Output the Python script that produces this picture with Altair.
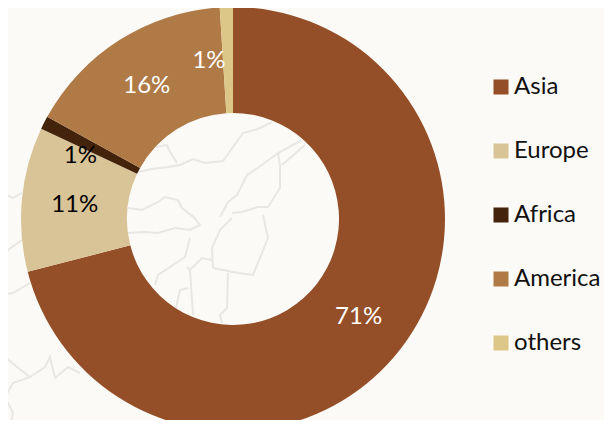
import altair as alt
import pandas as pd

regions = ["Asia", "Europe", "Africa", "America", "others"]
shares = [71, 11, 1, 16, 1]
labels = ["71%", "11%", "1%", "16%", "1%"]
colors = ["#954F28", "#D9C498", "#43230B", "#B07A47", "#DCC788"]
label_colors = ["#FFFFFF", "#000000", "#000000", "#FFFFFF", "#FFFFFF"]
label_dx = [0, 0, -11, -1, -19]
label_dy = [1, 1, 9, 1, 1]

# faint map texture behind the chart
map_lines = [
    [(138,172),(152,169),(168,167),(180,165),(193,159),(205,163),(223,161),(233,147),(243,133),(258,129),(272,122)],
    [(177,163),(170,152),(167,145),(155,147)],
    [(228,202),(237,195),(247,175),(262,165),(278,153),(302,140)],
    [(282,165),(305,145)],
    [(278,153),(280,165),(280,188),(268,207),(258,207),(242,212),(232,213)],
    [(228,202),(220,217)],
    [(128,208),(142,210),(158,202),(165,197),(178,200),(182,208),(197,220)],
    [(128,233),(145,232),(158,233),(175,228),(190,230),(200,225),(192,215)],
    [(190,238),(185,257),(173,265),(158,275),(155,285)],
    [(187,267),(190,270),(202,258),(212,260)],
    [(190,270),(193,315)],
    [(213,268),(212,248),(220,230),(232,218)],
    [(213,268),(238,273),(253,275),(268,238),(263,215)],
    [(228,273),(227,308),(220,315),(222,323)],
    [(175,312),(180,290),(188,288)],
    [(0,192),(13,198),(22,193)],
    [(0,267),(8,250),(22,240)],
    [(0,295),(13,293),(30,283)],
    [(0,343),(5,357),(17,367),(30,377),(13,383),(5,397),(13,413),(10,428)],
    [(30,377),(45,367),(50,357),(55,378),(68,367),(80,373)],
]

df = pd.DataFrame({
    "region": regions, "share": shares, "label": labels, "idx": range(len(regions)),
})
map_df = pd.DataFrame([
    {"line": i, "n": j, "mx": p[0], "my": p[1]}
    for i, line in enumerate(map_lines) for j, p in enumerate(line)
])

W, H = 596, 412
CX, CY = alt.value(225), alt.value(211)
base = alt.Chart(df)
theta_scale = alt.Scale(domain=[0, 100], range=[0, 6.283185307])

map_layer = alt.Chart(map_df).mark_line(color="#E8E7E4", strokeWidth=2, clip=True).encode(
    x=alt.X("mx:Q", scale=alt.Scale(domain=[8, 8 + W], range=[0, W], nice=False, zero=False), axis=None),
    y=alt.Y("my:Q", scale=alt.Scale(domain=[8, 8 + H], range=[0, H], nice=False, zero=False), axis=None),
    detail="line:N",
    order="n:Q",
)

arcs = base.mark_arc(radius=212, radius2=106).encode(
    theta=alt.Theta("share:Q", stack=True, scale=theta_scale),
    color=alt.Color(
        "region:N",
        scale=alt.Scale(domain=regions, range=colors),
        legend=alt.Legend(
            title=None, orient="none", legendX=481, legendY=67,
            symbolType="square", symbolSize=225, symbolStrokeWidth=0, symbolOpacity=1,
            labelFont="Lato", labelFontSize=24, labelColor="#111111", labelOffset=1,
            rowPadding=40, padding=0,
        ),
    ),
    order=alt.Order("idx:Q"),
    x=CX, y=CY,
)

text_layers = []
for i, r in enumerate(regions):
    text_layers.append(
        base.transform_stack(
            stack="share", groupby=[], sort=[alt.SortField("idx")], as_=["s0", "s1"]
        ).transform_filter(alt.datum.region == r).transform_calculate(
            mid="(datum.s0 + datum.s1) / 2"
        ).mark_text(
            radius=159, font="Lato", fontSize=24, align="center", baseline="middle",
            dx=label_dx[i], dy=label_dy[i], color=label_colors[i],
        ).encode(
            theta=alt.Theta("mid:Q", stack=None, scale=theta_scale),
            text="label:N",
            x=CX, y=CY,
        )
    )

chart = alt.layer(map_layer, arcs, *text_layers).properties(
    width=W, height=H, padding=0, autosize=alt.AutoSizeParams(type="none"), background="#FBFAF6"
).configure_view(stroke=None)

chart.save("out.html", embed_options={"renderer": "svg", "actions": False})
